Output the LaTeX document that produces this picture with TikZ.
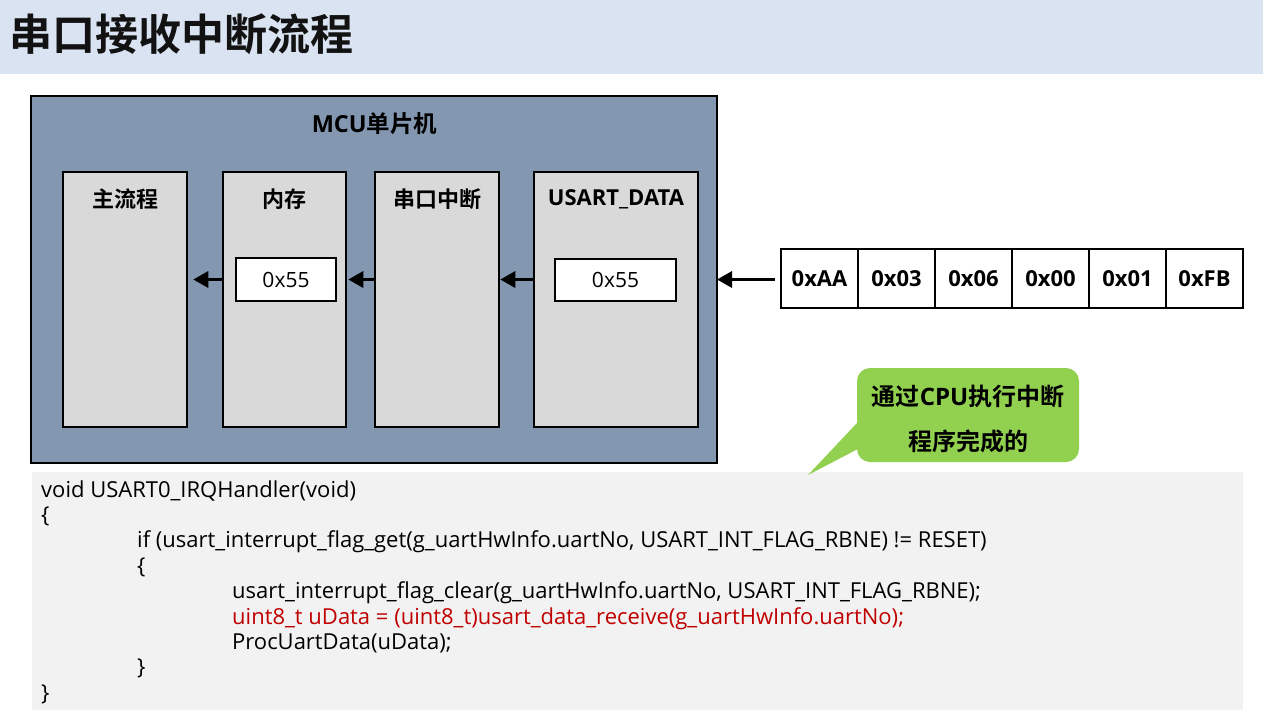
\documentclass[tikz,border=0pt]{standalone}
\usepackage{fontspec}
\setmainfont{Open Sans}
\newfontfamily\cjk{Noto Sans CJK SC}[BoldFont={* Bold}]
\usetikzlibrary{arrows.meta}
\definecolor{titlebg}{RGB}{218,227,241}
\definecolor{mcubg}{RGB}{132,151,176}
\definecolor{innerbg}{RGB}{217,217,217}
\definecolor{codebg}{RGB}{242,242,242}
\definecolor{callgreen}{RGB}{146,208,80}
\definecolor{codered}{RGB}{192,0,0}
\newcommand\zhtext[1]{{\cjk\bfseries #1}}
\tikzset{
  mcubox/.style={draw=black, line width=2pt, fill=mcubg, minimum width=686pt, minimum height=367pt, inner sep=0pt},
  innerbox/.style={draw=black, line width=2.5pt, fill=innerbg, minimum height=255pt, inner sep=0pt},
  valbox/.style={draw=black, line width=2pt, fill=white, inner sep=0pt, font=\fontsize{21}{25}\selectfont},
  boxlabel/.style={inner sep=0pt, font=\fontsize{22}{26}\selectfont\bfseries},
  bytecell/.style={draw=black, line width=2pt, fill=white, minimum width=77pt, minimum height=59pt, inner sep=0pt, font=\fontsize{22}{26}\selectfont\bfseries},
  arr/.style={line width=3.2pt, -{Triangle[length=15pt,width=16pt]}},
  codeline/.style={anchor=base west, inner sep=0pt, font=\fontsize{22}{26}\selectfont},
  callout/.style={fill=callgreen, rounded corners=13pt, minimum width=222pt, minimum height=94pt, inner sep=0pt},
}
\begin{document}
\begin{tikzpicture}[x=1pt, y=-1pt]
\useasboundingbox (0,0) rectangle (1263,710);
\fill[white] (0,0) rectangle (1263,710);
% title bar
\fill[titlebg] (0,0) rectangle (1263,74);
\node[anchor=west, inner sep=0pt, font=\fontsize{43}{47}\selectfont\cjk\bfseries, text=black!93] (title) at (9,34) {串口接收中断流程};
% code background
\fill[codebg] (32,472) rectangle (1243,710);
% MCU
\node[mcubox] (mcu) at (374,279.5) {};
\node[boxlabel, font=\fontsize{23.5}{27}\selectfont\bfseries] (mcul) at (374.5,124) {MCU\zhtext{单片机}};
\node[innerbox, minimum width=124pt] (main) at (125,299.5) {};
\node[innerbox, minimum width=123pt] (mem) at (284.5,299.5) {};
\node[innerbox, minimum width=124pt] (isr) at (437,299.5) {};
\node[innerbox, minimum width=164pt] (udata) at (616,299.5) {};
\node[boxlabel] (mainl) at (125,199) {\zhtext{主流程}};
\node[boxlabel] (meml) at (284.5,199) {\zhtext{内存}};
\node[boxlabel] (isrl) at (437,199) {\zhtext{串口中断}};
\node[boxlabel] (udatal) at (616,199) {USART\_DATA};
\node[valbox, minimum width=100pt, minimum height=43pt] (val1) at (286,279.5) {0x55};
\node[valbox, minimum width=121pt, minimum height=42pt] (val2) at (615.5,280) {0x55};
% byte row
\node[bytecell] (b1) at (819.5,278.5) {0xAA};
\node[bytecell] (b2) at (896.5,278.5) {0x03};
\node[bytecell] (b3) at (973.5,278.5) {0x06};
\node[bytecell] (b4) at (1050.5,278.5) {0x00};
\node[bytecell] (b5) at (1127.5,278.5) {0x01};
\node[bytecell] (b6) at (1204.5,278.5) {0xFB};
% arrows
\draw[arr, shorten >=5pt] (mem.west |- val1.center) -- (main.east |- val1.center);
\draw[arr, shorten >=1pt] (isr.west |- val1.center) -- (mem.east |- val1.center);
\draw[arr, shorten >=0pt] (udata.west |- val1.center) -- (isr.east |- val1.center);
\draw[arr, shorten <=5pt, shorten >=-1pt] (b1.west |- val1.center) -- (mcu.east |- val1.center);
% callout
\node[callout] (call) at (968,415) {};
\fill[callgreen] ([xshift=3pt]call.west |- 0,420) -- (808,475) -- ([xshift=3pt]call.west |- 0,448) -- cycle;
\node[align=center, inner sep=0pt, font=\fontsize{24}{45}\selectfont\bfseries] (callt) at (968,419) {\zhtext{通过}CPU\zhtext{执行中断}\\\zhtext{程序完成的}};
% code
\node[codeline] (c1) at (41,497) {void USART0\_IRQHandler(void)};
\node[codeline] (c2) at (41,522.4) {\{};
\node[codeline] (c3) at (137,547.8) {if (usart\_interrupt\_flag\_get(g\_uartHwInfo.uartNo, USART\_INT\_FLAG\_RBNE) != RESET)};
\node[codeline] (c4) at (137,573.2) {\{};
\node[codeline] (c5) at (232,598.6) {usart\_interrupt\_flag\_clear(g\_uartHwInfo.uartNo, USART\_INT\_FLAG\_RBNE);};
\node[codeline, text=codered] (c6) at (232,624) {uint8\_t uData = (uint8\_t)usart\_data\_receive(g\_uartHwInfo.uartNo);};
\node[codeline] (c7) at (232,649.4) {ProcUartData(uData);};
\node[codeline] (c8) at (137,674.8) {\}};
\node[codeline] (c9) at (41,700.2) {\}};
\end{tikzpicture}
\end{document}
